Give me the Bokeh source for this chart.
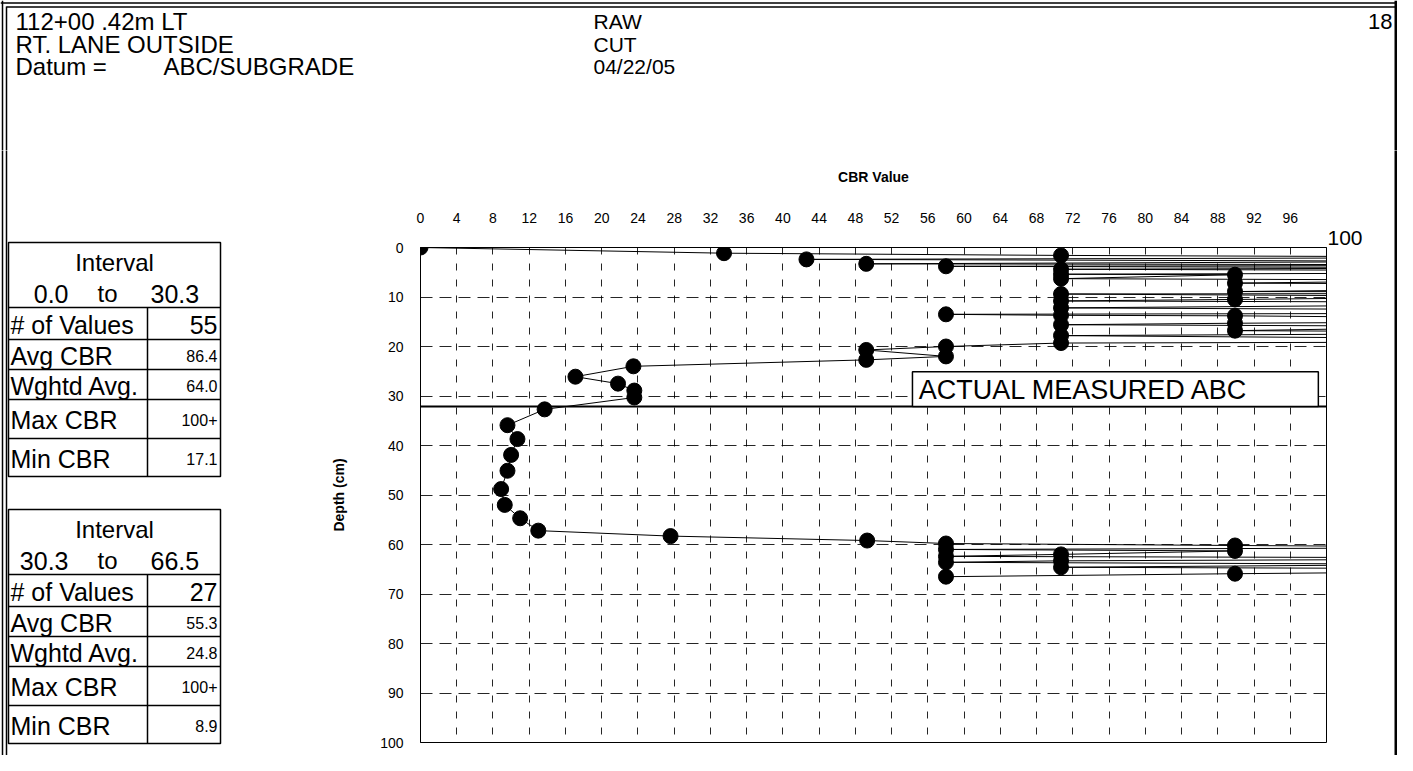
from bokeh.plotting import figure
from bokeh.layouts import column, row
from bokeh.models import Range1d, FixedTicker, Label, Span, BoxAnnotation
from bokeh.core.properties import value
from bokeh.embed import file_html
from bokeh.resources import INLINE

FONT = "Liberation Sans"

# ---------------- data ----------------
# DCP readings in test order: depth (cm) and CBR value (values > 100 plot off the chart)
DEPTH_CM = [0.0, 1.15, 1.6, 2.0, 2.4, 2.8, 3.3, 3.55, 3.8, 4.1,
            4.4, 4.9, 5.4, 5.5, 6.3, 6.6, 7.2, 7.6, 8.0, 8.5,
            8.9, 9.1, 9.4, 9.9, 10.5, 10.8, 11.2, 11.7, 12.2, 12.7,
            13.1, 13.5, 13.7, 13.8, 14.2, 14.7, 15.3, 15.6, 16.0, 16.4,
            16.8, 17.2, 17.8, 18.4, 18.9, 19.3, 20.0, 20.7, 22.0, 22.7,
            24.0, 26.1, 27.5, 28.9, 30.3,
            32.7, 35.9, 38.7, 41.9, 45.1, 48.8, 52.0, 54.7, 57.2, 58.3,
            59.2, 59.8, 60.2, 60.6, 61.0, 61.3, 62.0, 62.4, 62.8, 63.3,
            63.6, 64.0, 64.6, 65.0, 65.4, 65.9, 66.5]
CBR = [0, 33.5, 70.7, 131, 42.6, 118, 49.2, 142, 58.0, 125,
       70.7, 167, 70.7, 89.9, 70.7, 119, 89.9, 154, 138, 112,
       89.9, 196, 70.7, 121, 89.9, 70.7, 145, 108, 70.7, 133,
       176, 58.0, 70.7, 89.9, 115, 149, 89.9, 70.7, 127, 104,
       89.9, 139, 70.7, 117, 162, 70.7, 58.0, 49.2, 58.0, 49.2,
       23.5, 17.1, 21.8, 23.6, 23.6,
       13.7, 9.6, 10.7, 10.0, 9.6, 8.9, 9.3, 11.0, 13.0, 27.6,
       49.3, 58.0, 89.9, 128, 58.0, 89.9, 70.7, 58.0, 141, 70.7,
       58.0, 116, 70.7, 135, 122, 89.9, 58.0]

X_TICKS = [0, 4, 8, 12, 16, 20, 24, 28, 32, 36, 40, 44, 48,
           52, 56, 60, 64, 68, 72, 76, 80, 84, 88, 92, 96]
X_END_LABEL = "100"
Y_TICKS = [0, 10, 20, 30, 40, 50, 60, 70, 80, 90, 100]
ABC_DEPTH = 32.1
ABC_TEXT = "ACTUAL MEASURED ABC"

HEADER_LEFT = ["112+00 .42m LT", "RT.  LANE OUTSIDE", "Datum ="]
DATUM = "ABC/SUBGRADE"
HEADER_MID = ["RAW", "CUT", "04/22/05"]
PAGE_NO = "18"

ROW_LABELS = ["# of Values", "Avg CBR", "Wghtd Avg.", "Max CBR", "Min CBR"]
INTERVAL_1 = ["0.0", "30.3"]
VALUES_1 = ["55", "86.4", "64.0", "100+", "17.1"]
INTERVAL_2 = ["30.3", "66.5"]
VALUES_2 = ["27", "55.3", "24.8", "100+", "8.9"]


def blank(width, height, x0, x1, y_bottom, y_top):
    f = figure(width=width, height=height, x_range=Range1d(x0, x1),
               y_range=Range1d(y_bottom, y_top), x_axis_type=None, y_axis_type=None,
               toolbar_location=None, output_backend="svg", min_border=0,
               outline_line_color=None, background_fill_color="white",
               border_fill_color="white", frame_align=False)
    f.grid.visible = False
    return f


def txt(f, x, y, s, size, align="left"):
    f.text(x=[x], y=[y], text=[s], text_font=value(FONT),
           text_font_size=value(size), text_align=align,
           text_baseline="middle", text_color="black")


def hline(f, x0, x1, y, w=1.5):
    f.segment(x0=[x0], y0=[y], x1=[x1], y1=[y], line_color="black", line_width=w)


def vline(f, x, y0, y1, w=1.5):
    f.segment(x0=[x], y0=[y0], x1=[x], y1=[y1], line_color="black", line_width=w)


# ---------------- header strip (page pixels) ----------------
hdr = blank(1397, 150, 0, 1397, 150, 0)
hline(hdr, 0, 1397, 2.5)
hline(hdr, 6, 1397, 6.5)
vline(hdr, 2, 0, 151)
vline(hdr, 6, 6, 151)
vline(hdr, 1395.5, 0, 151, 3)
rows_y = [21, 43.5, 66]
for yy, s in zip(rows_y, HEADER_LEFT):
    txt(hdr, 15, yy, s, "24px")
txt(hdr, 163, rows_y[2], DATUM, "24px")
for yy, s in zip(rows_y, HEADER_MID):
    txt(hdr, 593, yy, s, "21px")
txt(hdr, 1392, 21, PAGE_NO, "22px", "right")

# ---------------- left tables ----------------
lf = blank(240, 605, 0, 240, 755, 150)
vline(lf, 2, 149, 755)
vline(lf, 6, 149, 755)

ROW_H = [32, 30, 30, 39, 38]


def table(f, top, rng, vals):
    edges = [top + 65]
    for h in ROW_H:
        edges.append(edges[-1] + h)
    bottom = edges[-1]
    f.quad(left=[8], right=[220], top=[top], bottom=[bottom], fill_color=None,
           line_color="black", line_width=1.5)
    f.segment(x0=[8] * 5, y0=edges[:-1], x1=[220] * 5, y1=edges[:-1],
              line_color="black", line_width=1.5)
    vline(f, 147, edges[0], bottom)
    txt(f, 114, top + 19.5, "Interval", "24px", "center")
    txt(f, 68, top + 51, rng[0], "25px", "right")
    txt(f, 107, top + 51, "to", "24px", "center")
    txt(f, 150, top + 51, rng[1], "25px", "left")
    for i, (lab, v) in enumerate(zip(ROW_LABELS, vals)):
        yy = (edges[i] + edges[i + 1]) / 2 + 1
        txt(f, 10, yy, lab, "25px")
        txt(f, 217, yy, v, "25px" if i == 0 else "16px", "right")


table(lf, 242, INTERVAL_1, VALUES_1)
table(lf, 509, INTERVAL_2, VALUES_2)

# ---------------- right strip: "100" end label and page border ----------------
rf = blank(70, 605, 1327, 1397, 755, 150)
vline(rf, 1395.5, 149, 755, 3)
txt(rf, 1327, 237.5, X_END_LABEL, "21px", "left")

# ---------------- chart ----------------
p = figure(width=1087, height=605, x_range=Range1d(0, 100), y_range=Range1d(100, 0),
           x_axis_location="above", toolbar_location=None, output_backend="svg",
           min_border_left=180, min_border_right=1, min_border_top=97,
           min_border_bottom=13, background_fill_color="white",
           border_fill_color="white", outline_line_color="black", frame_align=False)
p.xaxis.ticker = FixedTicker(ticks=X_TICKS)
p.yaxis.ticker = FixedTicker(ticks=Y_TICKS)
p.xaxis.axis_label = "CBR Value"
p.yaxis.axis_label = "Depth (cm)"
for ax in p.axis:
    ax.axis_line_color = "black"
    ax.major_tick_in = 0
    ax.major_tick_out = 0
    ax.minor_tick_line_color = None
    ax.major_label_text_font = FONT
    ax.major_label_text_font_size = "14px"
    ax.major_label_text_color = "black"
    ax.axis_label_text_font = FONT
    ax.axis_label_text_font_size = "14px"
    ax.axis_label_text_font_style = "bold"
    ax.axis_label_text_color = "black"
p.xaxis.major_label_standoff = 25
p.xaxis.axis_label_standoff = 25
p.yaxis.major_label_standoff = 17
p.yaxis.axis_label_standoff = 30

p.xgrid.grid_line_color = "black"
p.xgrid.grid_line_alpha = 0.85
p.xgrid.grid_line_dash = "7 9"
p.ygrid.grid_line_color = "black"
p.ygrid.grid_line_alpha = 0.85
p.ygrid.grid_line_dash = "12 7"

p.line(CBR, DEPTH_CM, line_color="black", line_width=1)
p.scatter(CBR, DEPTH_CM, size=15, marker="circle", fill_color="black", line_color="black")

p.add_layout(Span(location=ABC_DEPTH, dimension="width", line_color="black", line_width=2))
p.add_layout(BoxAnnotation(left=54.3, right=99.1, top=25.1, bottom=ABC_DEPTH,
                           fill_color="white", fill_alpha=1, line_color="black",
                           line_alpha=1, line_width=1.5))
p.add_layout(Label(x=55.0, y=28.7, text=ABC_TEXT, text_font=FONT, text_font_size="27px",
                   text_baseline="middle", text_align="left", text_color="black"))

layout = column(hdr, row(lf, p, rf))
open("out.html", "w").write(file_html(layout, INLINE))
